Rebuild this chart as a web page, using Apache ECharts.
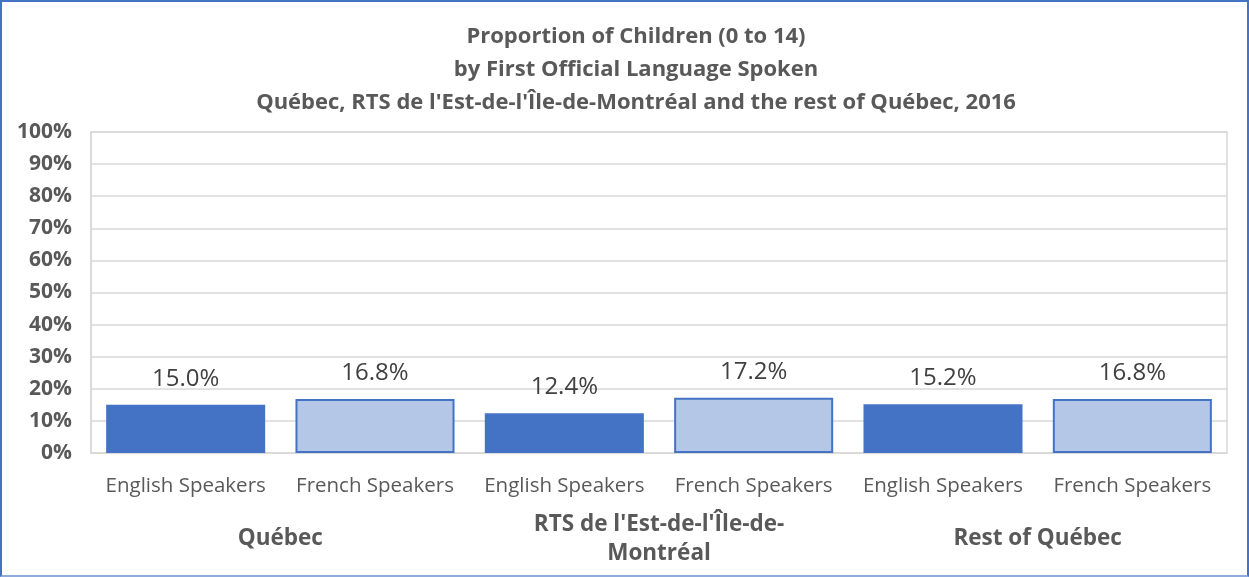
<!DOCTYPE html>
<html>
<head>
<meta charset="utf-8">
<script src="https://cdn.jsdelivr.net/npm/echarts@6/dist/echarts.min.js"></script>
<style>
  html, body { margin: 0; padding: 0; background: #fff; }
  #wrap { width: 1249px; height: 577px; box-sizing: border-box; border: 2px solid #4472C4; border-bottom-color: #8FAADC; }
  #chart { width: 1245px; height: 573px; }
</style>
</head>
<body>
<div id="wrap"><div id="chart"></div></div>
<script>
const titleLines = [
  "Proportion of Children (0 to 14)",
  "by First Official Language Spoken",
  "Québec, RTS de l'Est-de-l'Île-de-Montréal and the rest of Québec, 2016"
];
const groups = ["Québec", "RTS de l'Est-de-l'Île-de-\nMontréal", "Rest of Québec"];
const languages = ["English Speakers", "French Speakers"];
const englishValues = [15.0, 12.4, 15.2];
const frenchValues = [16.8, 17.2, 16.8];
const yTicks = [0, 10, 20, 30, 40, 50, 60, 70, 80, 90, 100];

const categories = [];
const barData = [];
groups.forEach((g, i) => {
  categories.push(languages[0]);
  barData.push({ value: englishValues[i], itemStyle: { color: '#4472C4', borderColor: '#4472C4', borderWidth: 0 } });
  categories.push(languages[1]);
  barData.push({ value: frenchValues[i], itemStyle: { color: '#B4C7E7', borderColor: '#4472C4', borderWidth: 2 } });
});

const FONT = "'Open Sans', 'Noto Sans', sans-serif";
const chart = echarts.init(document.getElementById('chart'));
chart.setOption({
  animation: false,
  textStyle: { fontFamily: FONT },
  title: {
    text: titleLines.join('\n'),
    left: 629, top: 13, textAlign: 'center',
    textStyle: { fontFamily: FONT, fontSize: 22, fontWeight: 'bold', color: '#595959', lineHeight: 33 }
  },
  grid: { left: 89, right: 20, top: 130, bottom: 122, show: true, borderColor: '#D9D9D9', borderWidth: 1.5 },
  xAxis: [
    {
      type: 'category', data: categories, position: 'bottom',
      axisLine: { lineStyle: { color: '#D9D9D9', width: 1.5 } },
      axisTick: { show: false },
      axisLabel: { color: '#595959', fontSize: 20.5, margin: 23, interval: 0 }
    },
    {
      type: 'category', data: groups, position: 'bottom',
      axisLine: { show: false }, axisTick: { show: false },
      axisLabel: { color: '#595959', fontSize: 22.5, fontWeight: 'bold', margin: 86, interval: 0, verticalAlign: 'middle', lineHeight: 29 }
    }
  ],
  yAxis: {
    type: 'value', min: 0, max: 100, interval: 10,
    axisLine: { show: true, lineStyle: { color: '#D9D9D9', width: 1.5 } },
    axisTick: { show: false },
    splitLine: { lineStyle: { color: '#D9D9D9', width: 1.5 } },
    axisLabel: { color: '#595959', fontSize: 21, fontWeight: 'bold', margin: 19, formatter: v => v + '%' }
  },
  series: [{
    type: 'bar', xAxisIndex: 0, data: barData, barWidth: '84%',
    label: { show: true, position: 'top', distance: 14, color: '#404040', fontSize: 24, formatter: p => p.value.toFixed(1) + '%' }
  }]
});
</script>
</body>
</html>
